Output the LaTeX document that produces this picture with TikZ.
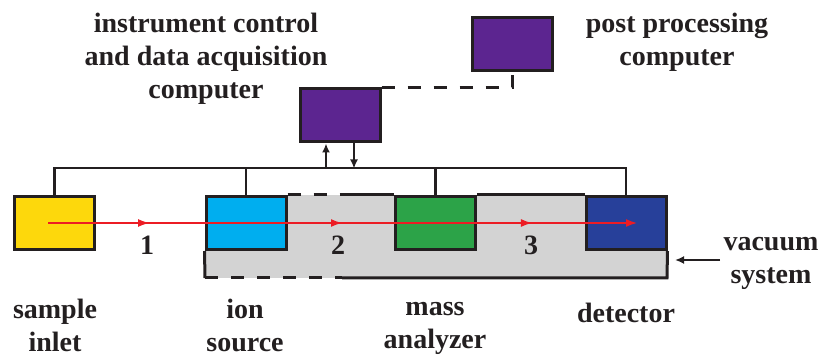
\documentclass[tikz,border=0pt]{standalone}
\usepackage{fontspec}
\setmainfont{Liberation Serif}
\usetikzlibrary{arrows.meta,decorations.markings}

\definecolor{inletyellow}{HTML}{FDD80C}
\definecolor{sourcecyan}{HTML}{00AEEF}
\definecolor{analyzergreen}{HTML}{2CA348}
\definecolor{detectorblue}{HTML}{27409A}
\definecolor{pcpurple}{HTML}{5C2590}
\definecolor{vacgray}{HTML}{D3D3D3}
\definecolor{beamred}{HTML}{EC1C24}
\definecolor{ink}{HTML}{231F20}

\tikzset{
    unit/.style={draw=ink, line width=3pt, minimum width=80pt, minimum height=53pt, inner sep=0pt},
    lbl/.style={font=\fontsize{28}{33}\selectfont\bfseries, align=center, text=ink},
    wire/.style={draw=ink, line width=2.8pt},
    dashwire/.style={wire, dash pattern=on 13pt off 13pt},
    sig/.style={wire, -{Latex[length=9pt,width=8pt]}},
    beamtip/.style={-{Latex[length=12pt,width=8pt]}},
    beam/.style={draw=beamred, line width=2.4pt, beamtip,
        postaction={decorate},
        decoration={markings,
            mark=at position 0.173 with {\arrow{Latex[length=12pt,width=8pt]}},
            mark=at position 0.5 with {\arrow{Latex[length=12pt,width=8pt]}},
            mark=at position 0.822 with {\arrow{Latex[length=12pt,width=8pt]}}}}
}

\begin{document}
\begin{tikzpicture}[x=1pt, y=-1pt]
    \useasboundingbox (0,0) rectangle (823,358);
    % vacuum chamber
    \fill[vacgray] (205,195) rectangle (667,278);

    \node[unit, fill=inletyellow] (inlet) at (54.5,223) {};
    \node[unit, fill=sourcecyan] (source) at (246,223) {};
    \node[unit, fill=analyzergreen] (analyzer) at (435.5,223) {};
    \node[unit, fill=detectorblue] (detector) at (626,223) {};
    \node[unit, fill=pcpurple] (daq) at (340,115.5) {};
    \node[unit, fill=pcpurple] (post) at (512.5,44.5) {};

    \draw[wire, line width=3pt] (source.south west) -- (205,278);
    \draw[dashwire, line width=3pt] (205,278) -- (342,278);
    \draw[wire, line width=3pt] (342,278) -- (667,278) -- (detector.south east);
    \draw[dashwire, line width=3pt] (source.north east) -- (342,195);
    \draw[wire, line width=3pt] (342,195) -- (analyzer.north west);
    \draw[wire, line width=3pt] (analyzer.north east) -- (detector.north west);

    % control bus
    \draw[wire] (inlet.north) -- ++(0,-27) -| (detector.north);
    \draw[wire] (source.north) -- ++(0,-27);
    \draw[wire] (analyzer.north) -- ++(0,-27);
    \draw[sig] ([xshift=-14pt,yshift=-25pt]daq.south) -- ([xshift=-14pt]daq.south);
    \draw[sig] ([xshift=14pt]daq.south) -- ([xshift=14pt,yshift=-25pt]daq.south);
    \draw[dashwire] (daq.north east) -| (post.south);

    % ion path
    \coordinate (beamstart) at (48,223);
    \coordinate (beamend) at (638,223);
    \draw[beam] (beamstart) -- (beamend);
    \node[lbl] (step1) at (147,245) {1};
    \node[lbl] (step2) at (338,245) {2};
    \node[lbl] (step3) at (531,245) {3};

    % labels
    \node[lbl] (daqlbl) at (206,59) {instrument control\\and data acquisition\\computer};
    \node[lbl] (postlbl) at (677,42) {post processing\\computer};
    \node[lbl] (inletlbl) at (55,325) {sample\\inlet};
    \node[lbl] (sourcelbl) at (245,325) {ion\\source};
    \node[lbl] (analyzerlbl) at (435,328) {mass\\analyzer};
    \node[lbl] (detectorlbl) at (626,313) {detector};
    \node[lbl] (vacuumlbl) at (771,263) {vacuum\\system};
    \coordinate (vactip) at (675,260);
    \draw[sig] (vacuumlbl.west |- vactip) -- (vactip);
\end{tikzpicture}
\end{document}
